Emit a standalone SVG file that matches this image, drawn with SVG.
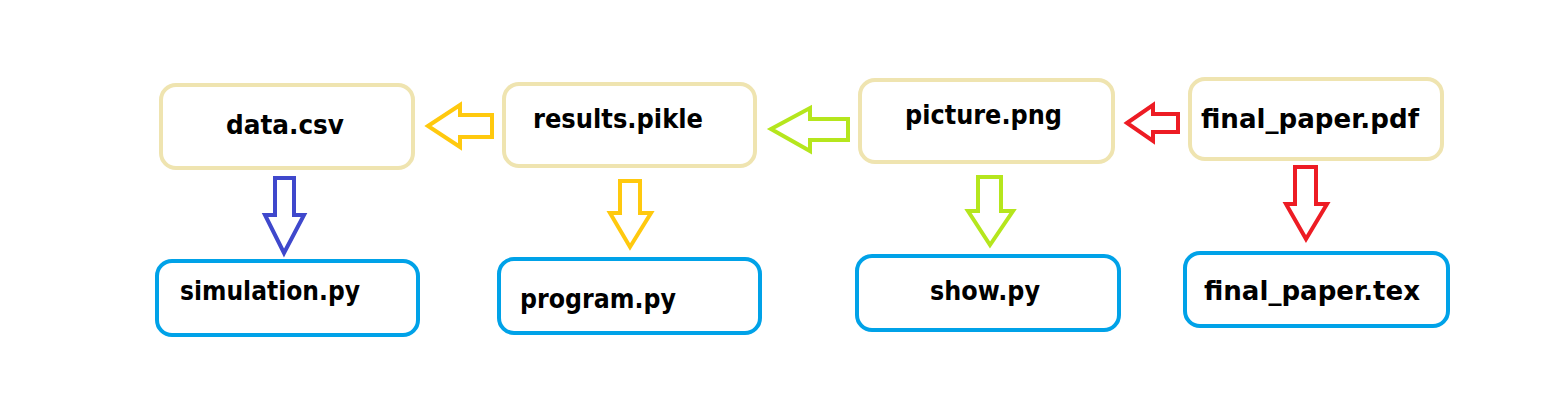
<svg xmlns="http://www.w3.org/2000/svg" width="1550" height="420" viewBox="0 0 1550 420">
<style>
.src{fill:#ffffff;stroke:#EFE4B0;stroke-width:4}
.py{fill:#ffffff;stroke:#00A2E8;stroke-width:4}
.lbl{font-family:"DejaVu Sans",sans-serif;font-weight:bold;font-size:26px;fill:#000000}
.arr{fill:#ffffff;stroke-width:4;stroke-linejoin:miter}
</style>
<rect width="1550" height="420" fill="#ffffff"/>
<g id="data_csv"><rect class="src" x="161" y="85" width="252" height="83" rx="15"/><text class="lbl" x="226" y="134" textLength="118" lengthAdjust="spacingAndGlyphs">data.csv</text></g>
<g id="results_pikle"><rect class="src" x="504" y="84" width="251" height="82" rx="15"/><text class="lbl" x="533" y="128" textLength="170" lengthAdjust="spacingAndGlyphs">results.pikle</text></g>
<g id="picture_png"><rect class="src" x="860" y="80" width="253" height="82" rx="15"/><text class="lbl" x="905" y="124" textLength="157" lengthAdjust="spacingAndGlyphs">picture.png</text></g>
<g id="final_paper_pdf"><rect class="src" x="1190" y="79" width="252" height="80" rx="15"/><text class="lbl" x="1201" y="128" textLength="218" lengthAdjust="spacingAndGlyphs">final_paper.pdf</text></g>
<g id="simulation_py"><rect class="py" x="157" y="261" width="261" height="74" rx="15"/><text class="lbl" x="180" y="300" textLength="180" lengthAdjust="spacingAndGlyphs">simulation.py</text></g>
<g id="program_py"><rect class="py" x="499" y="259" width="261" height="74" rx="15"/><text class="lbl" x="520" y="308" textLength="156" lengthAdjust="spacingAndGlyphs">program.py</text></g>
<g id="show_py"><rect class="py" x="857" y="256" width="262" height="74" rx="15"/><text class="lbl" x="930" y="300" textLength="110" lengthAdjust="spacingAndGlyphs">show.py</text></g>
<g id="final_paper_tex"><rect class="py" x="1185" y="253" width="263" height="73" rx="15"/><text class="lbl" x="1204" y="300" textLength="216" lengthAdjust="spacingAndGlyphs">final_paper.tex</text></g>
<g id="connectors">
<polygon class="arr" stroke="#FFC90E" points="428,126 460,105 460,115 492,115 492,137 460,137 460,147"/>
<polygon class="arr" stroke="#B5E61D" points="771,129 810,108 810,119 848,119 848,140 810,140 810,151"/>
<polygon class="arr" stroke="#ED1C24" points="1127,123 1153,105 1153,114 1178,114 1178,132 1153,132 1153,141"/>
<polygon class="arr" stroke="#3F48CC" points="275,178 294,178 294,215 304,215 284,253 265,215 275,215"/>
<polygon class="arr" stroke="#FFC90E" points="620,181 640,181 640,213 651,213 630,247 610,213 620,213"/>
<polygon class="arr" stroke="#B5E61D" points="978,177 1001,177 1001,211 1013,211 990,245 968,211 978,211"/>
<polygon class="arr" stroke="#ED1C24" points="1295,167 1316,167 1316,204 1327,204 1306,239 1286,204 1295,204"/>
</g>
</svg>
